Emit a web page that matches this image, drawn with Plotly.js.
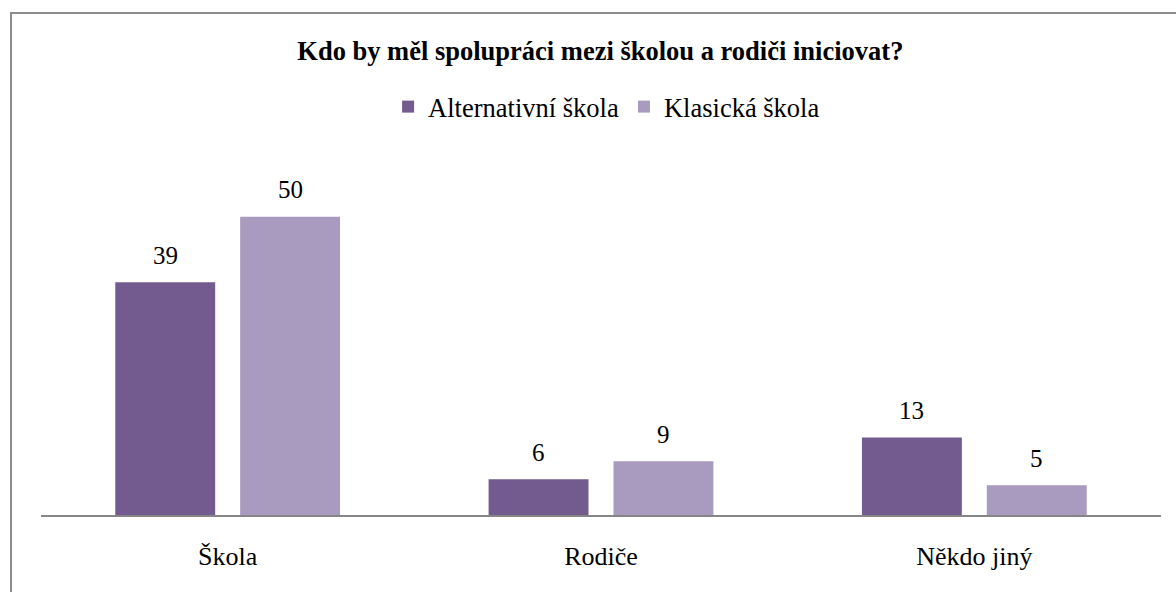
<!DOCTYPE html>
<html>
<head>
<meta charset="utf-8">
<script src="https://cdn.plot.ly/plotly-3.0.1.min.js"></script>
<style>html,body{margin:0;padding:0;background:#fff;}#chart{width:1176px;height:592px;}</style>
</head>
<body>
<div id="chart"></div>
<script>
const categories = ["Škola", "Rodiče", "Někdo jiný"];
const alternativni = [39, 6, 13];
const klasicka = [50, 9, 5];
const seriesNames = ["Alternativní škola", "Klasická škola"];
const chartTitle = "Kdo by měl spolupráci mezi školou a rodiči iniciovat?";

const colors = ["#735a8f", "#a99bbf"];
const font = "'Liberation Serif', 'Times New Roman', serif";

const traces = [alternativni, klasicka].map((vals, i) => ({
  type: "bar",
  name: seriesNames[i],
  x: categories,
  y: vals,
  marker: {color: colors[i]},
  hoverinfo: "none"
}));

const annotations = [];
[alternativni, klasicka].forEach((vals, i) => {
  vals.forEach((v, j) => {
    annotations.push({
      x: categories[j], y: v, xref: "x", yref: "y",
      text: String(v), showarrow: false,
      xshift: i === 0 ? -62.5 : 62.5, yshift: 27,
      yanchor: "middle",
      font: {family: font, size: 25, color: "#000"}
    });
  });
});

const layout = {
  width: 1176, height: 592,
  margin: {l: 41, r: 14.5, t: 157, b: 77},
  paper_bgcolor: "#fff", plot_bgcolor: "#fff",
  font: {family: font},
  title: {text: "<b>" + chartTitle + "</b>", x: 0.5105, xanchor: "center", y: 0.914, yanchor: "middle", yref: "container",
          font: {family: font, size: 26.5, color: "#000"}},
  barmode: "group", bargap: 0.331, bargroupgap: 0.2,
  showlegend: true,
  legend: {orientation: "h", x: 0.505, xanchor: "center", y: 1.14, yanchor: "middle",
           font: {family: font, size: 26.5, color: "#000"}, itemclick: false, traceorder: "normal"},
  xaxis: {showline: true, linecolor: "#868686", linewidth: 2, ticks: "", showgrid: false, zeroline: false,
          tickfont: {family: font, size: 26, color: "#000"}, ticklabelstandoff: 17, fixedrange: true},
  yaxis: {range: [0, 60], visible: false, showgrid: false, zeroline: false, fixedrange: true},
  annotations: annotations,
  shapes: [{type: "rect", xref: "paper", yref: "paper",
            x0: -0.02677, x1: 1.2, y0: -0.5, y1: 1.4022,
            line: {color: "#8c8c8c", width: 2}, fillcolor: "rgba(0,0,0,0)", layer: "above"}]
};

Plotly.newPlot("chart", traces, layout, {staticPlot: true, displayModeBar: false});
</script>
</body>
</html>
